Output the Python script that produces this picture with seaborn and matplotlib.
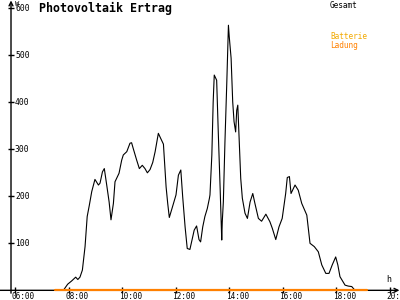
import matplotlib
matplotlib.use("Agg")
import matplotlib.pyplot as plt
import seaborn as sns
import pandas as pd

# ---- data ----
gesamt_hours = [7.79, 7.95, 8.10, 8.25, 8.33, 8.41, 8.50, 8.60, 8.68, 8.76, 8.85, 8.97,
                9.10, 9.16, 9.25, 9.32, 9.41, 9.50, 9.57, 9.66, 9.72, 9.87, 9.97, 10.03,
                10.16, 10.28, 10.34, 10.40, 10.53, 10.63, 10.74, 10.84, 10.93, 11.03, 11.13,
                11.22, 11.34, 11.43, 11.53, 11.63, 11.69, 11.75, 11.85, 12.00, 12.09, 12.18,
                12.25, 12.34, 12.42, 12.52, 12.61, 12.68, 12.77, 12.86, 12.92, 13.00, 13.08,
                13.17, 13.25, 13.27, 13.34, 13.39, 13.43, 13.52, 13.58, 13.65, 13.71, 13.73,
                13.77, 13.83, 13.90, 13.96, 13.99, 14.06, 14.12, 14.17, 14.23, 14.27, 14.31,
                14.36, 14.42, 14.48, 14.58, 14.67, 14.77, 14.87, 14.95, 15.08, 15.20, 15.36,
                15.51, 15.60, 15.73, 15.85, 15.97, 16.10, 16.16, 16.24, 16.30, 16.45, 16.57,
                16.70, 16.89, 17.01, 17.17, 17.32, 17.45, 17.60, 17.72, 17.84, 17.97, 18.05,
                18.13, 18.32, 18.44, 18.57, 18.69]
gesamt_watts = [0, 13, 20, 28, 23, 28, 43, 93, 157, 181, 210, 236,
                224, 228, 252, 259, 224, 188, 150, 185, 231, 249, 277, 288,
                295, 313, 314, 302, 277, 259, 266, 259, 250, 257, 272,
                295, 334, 323, 311, 220, 185, 155, 174, 203, 245, 256,
                199, 135, 89, 87, 110, 128, 137, 108, 103, 135, 157,
                174, 196, 203, 288, 401, 458, 447, 337, 217, 107, 146,
                188, 316, 444, 564, 540, 494, 401, 359, 337, 383, 394,
                323, 238, 196, 164, 153, 188, 206, 185, 153, 147, 162,
                146, 132, 108, 135, 153, 206, 240, 242, 206, 224, 213,
                185, 160, 100, 93, 82, 54, 36, 36, 54, 71, 54,
                29, 11, 9, 8, 0]
ladung_hours = [7.48, 19.13]
ladung_watts = [0, 0]

x_ticks = [6, 8, 10, 12, 14, 16, 18, 20]
x_tick_labels = ["06:00", "08:00", "10:00", "12:00", "14:00", "16:00", "18:00", "20:00"]
y_ticks = [100, 200, 300, 400, 500, 600]
y_tick_labels = ["100", "200", "300", "400", "500", "600"]

title = "Photovoltaik Ertrag"
legend_labels = ["Gesamt", "Batterie", "Ladung"]
legend_colors = ["#000000", "#F2A900", "#FF8000"]

# ---- figure ----
sns.set_style("white")
plt.rcParams["font.family"] = ["DejaVu Sans Mono"]

fig = plt.figure(figsize=(4, 3), dpi=100)
ax = fig.add_axes([0, 0, 1, 1])
XMIN, XMAX = 5.4206, 20.374
YMIN, YMAX = -20.6, 617.7
ax.set_xlim(XMIN, XMAX)
ax.set_ylim(YMIN, YMAX)
ax.axis("off")

df_g = pd.DataFrame({"h": gesamt_hours, "w": gesamt_watts})
df_l = pd.DataFrame({"h": ladung_hours, "w": ladung_watts})
sns.lineplot(data=df_g, x="h", y="w", ax=ax, color="black", lw=0.8, zorder=3)
sns.lineplot(data=df_l, x="h", y="w", ax=ax, color=legend_colors[2], lw=1.6, zorder=4)

AXIS_X = 5.832
# x axis with arrow
ax.annotate("", xy=(XMAX - 0.02, 0), xytext=(XMIN, 0),
            arrowprops=dict(arrowstyle="->", lw=1.0, color="black", mutation_scale=7,
                            shrinkA=0, shrinkB=0), zorder=2)
# y axis with arrow
ax.annotate("", xy=(AXIS_X, YMAX - 1), xytext=(AXIS_X, -6),
            arrowprops=dict(arrowstyle="->", lw=1.0, color="black", mutation_scale=7,
                            shrinkA=0, shrinkB=0), zorder=2)

# ticks
ax.plot(x_ticks, [0] * len(x_ticks), ls="none", marker="|", ms=5, mew=1.0, color="black",
        clip_on=False, zorder=2)
ax.plot([AXIS_X] * len(y_ticks), y_ticks, ls="none", marker="_", ms=4.5, mew=1.0,
        color="black", zorder=2)

for v, lab in zip(x_ticks, x_tick_labels):
    ax.annotate(lab, xy=(v, 0), xytext=(-3.5, -2), textcoords="offset pixels",
                ha="left", va="top", fontsize=5.6, color="black")
for v, lab in zip(y_ticks, y_tick_labels):
    ax.annotate(lab, xy=(AXIS_X, v), xytext=(4, -0.5), textcoords="offset pixels",
                ha="left", va="center", fontsize=5.8, color="black")

# unit labels
ax.annotate("W", xy=(AXIS_X, YMAX), xytext=(3.5, -1), textcoords="offset pixels",
            ha="left", va="top", fontsize=5, color="black")
ax.annotate("h", xy=(XMAX, 0), xytext=(-14, 6), textcoords="offset pixels",
            ha="left", va="bottom", fontsize=6, color="black")

# title
fig.text(39 / 400, 1 - 1.5 / 300, title, ha="left", va="top", fontsize=8.4,
         fontweight="bold", color="black")

# legend text
fig.text(330 / 400, 1 - 1 / 300, legend_labels[0], ha="left", va="top", fontsize=5.6,
         color=legend_colors[0])
fig.text(330 / 400, 1 - 32 / 300, legend_labels[1], ha="left", va="top", fontsize=5.6,
         color=legend_colors[1])
fig.text(330 / 400, 1 - 41 / 300, legend_labels[2], ha="left", va="top", fontsize=5.6,
         color=legend_colors[2])

fig.savefig("out.png", dpi=100, facecolor="white")
